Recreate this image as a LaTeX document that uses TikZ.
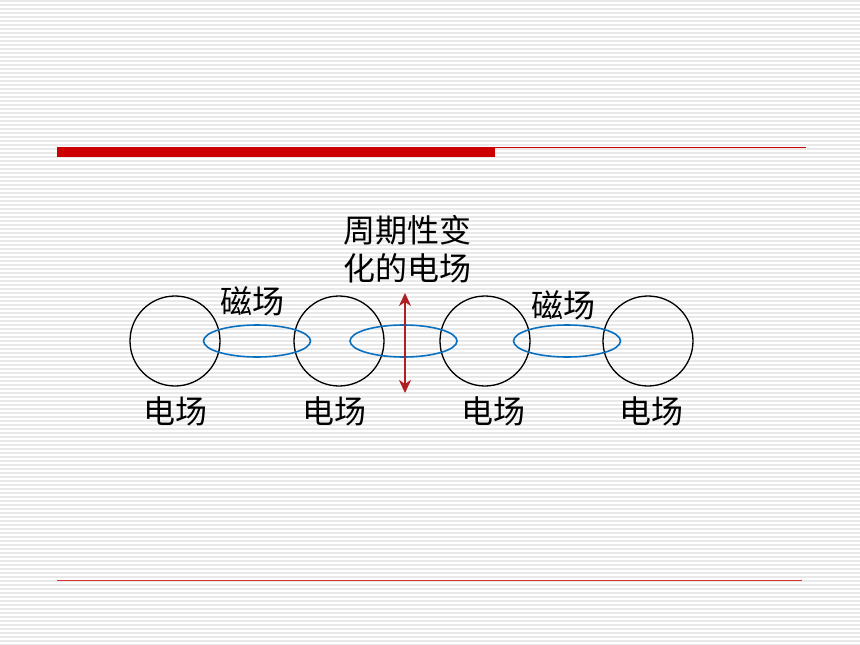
\documentclass[tikz,border=0pt]{standalone}
\usepackage{fontspec}
\usepackage{tikz}
\usetikzlibrary{shapes.geometric,positioning,arrows.meta}
\newfontfamily\cjk{Noto Sans CJK SC}

\definecolor{barred}{HTML}{CC0000}
\definecolor{arrowred}{HTML}{B01E23}
\definecolor{ringblue}{HTML}{0A70C0}
\definecolor{stripe}{HTML}{E9E9E9}

\tikzset{
    field/.style={circle, draw, line width=1.3pt, minimum size=90pt, inner sep=0pt},
    ring/.style={ellipse, draw=ringblue, line width=1.6pt, minimum width=107pt, minimum height=32pt, inner sep=0pt},
    lbl/.style={font=\cjk\fontsize{32}{38}\selectfont, inner sep=0pt, align=center},
    tip/.tip={Stealth[length=13pt, width=12pt, inset=4pt]},
}

\begin{document}
\begin{tikzpicture}[x=1pt, y=-1pt]
        \useasboundingbox (0,0) rectangle (860,645);
        \fill[white] (0,0) rectangle (860,645);
        \foreach \y in {1,5,...,645}
            \draw[stripe, line width=1.6pt] (0,\y) -- (860,\y);

        % title bar and footer rule
        \fill[barred] (57,147) rectangle (495,157);
        \draw[barred, line width=0.8pt] (495,147.5) -- (806,147.5);
        \draw[barred!80, line width=1pt] (57,580) -- (802,580);

        % electric field circles
        \node[field] (c1) at (175,341) {};
        \node[field] (c2) at (339,341) {};
        \node[field] (c3) at (485,341) {};
        \node[field] (c4) at (648,341) {};

        % magnetic field rings
        \node[ring] (m1) at (257,341) {};
        \node[ring] (m2) at (403.5,341) {};
        \node[ring] (m3) at (567,341) {};

        % oscillating field
        \coordinate (top) at (405,293);
        \coordinate (bot) at (405,393);
        \draw[arrowred, line width=1.8pt, tip-tip] (top) -- (bot);

        \node[lbl] (e1) at (175,411) {电场};
        \node[lbl] (e2) at (334,411) {电场};
        \node[lbl] (e3) at (493,411) {电场};
        \node[lbl] (e4) at (651,411) {电场};

        \node[lbl] (b1) at (252,301) {磁场};
        \node[lbl] (b2) at (563,305) {磁场};

        \node[lbl] (osc) at (407,249) {周期性变\\化的电场};
\end{tikzpicture}
\end{document}
